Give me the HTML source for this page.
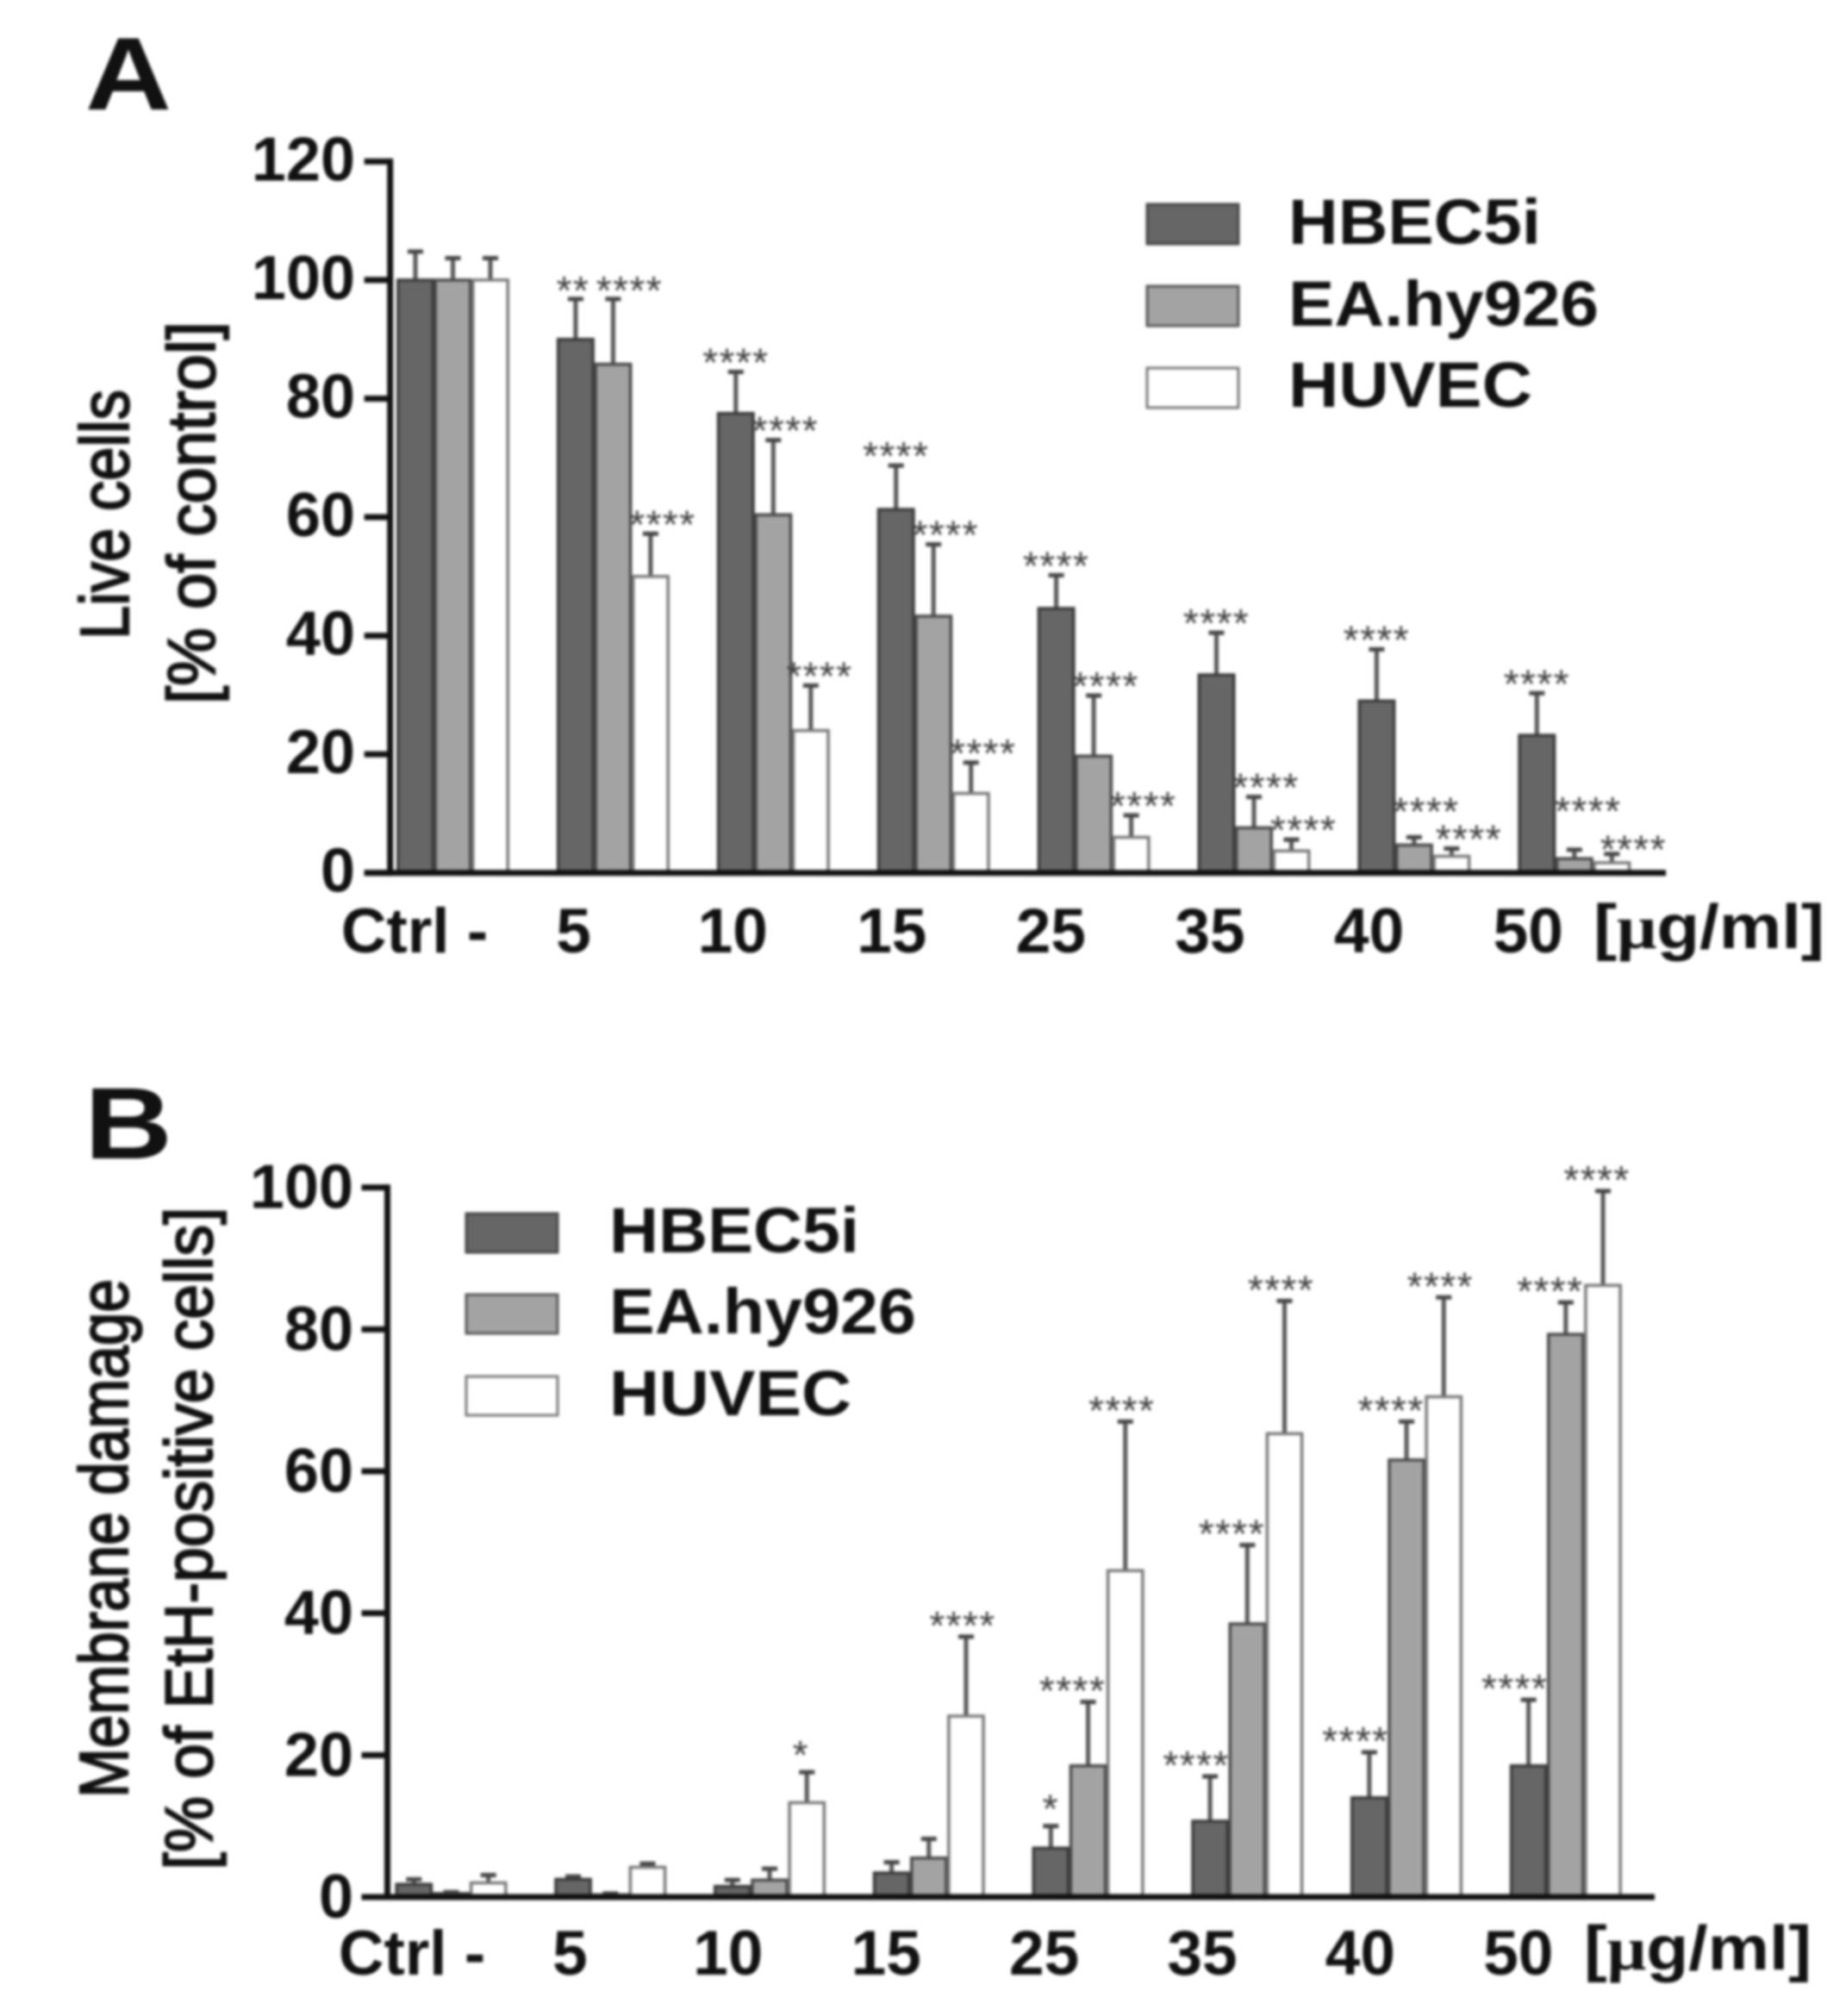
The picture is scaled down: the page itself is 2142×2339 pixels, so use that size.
<!DOCTYPE html>
<html lang="en">
<head>
<meta charset="utf-8">
<title>Live cells and membrane damage</title>
<style>
html,body{margin:0;padding:0;background:#fff;}
svg{display:block;filter:blur(1.7px);}
text{font-family:"Liberation Sans",sans-serif;fill:#111;}
.b{font-weight:bold;}
.t{stroke:#111;stroke-width:2.2px;}
</style>
</head>
<body>
<svg id="fig" width="2142" height="2339" viewBox="0 0 2142 2339" xmlns="http://www.w3.org/2000/svg">
  <rect width="2142" height="2339" fill="#fff"/>

  <text class="b" x="99" y="127" font-size="120" textLength="100" lengthAdjust="spacingAndGlyphs">A</text>
  <text class="b" x="98" y="1344" font-size="118" textLength="102" lengthAdjust="spacingAndGlyphs">B</text>

  <text class="t" transform="translate(149,597) rotate(-90)" text-anchor="middle" font-size="80" textLength="290" lengthAdjust="spacingAndGlyphs">Live cells</text>
  <text class="t" transform="translate(249,595) rotate(-90)" text-anchor="middle" font-size="78" textLength="444" lengthAdjust="spacingAndGlyphs">[% of control]</text>
  <text class="t" transform="translate(148,1785) rotate(-90)" text-anchor="middle" font-size="80" textLength="602" lengthAdjust="spacingAndGlyphs">Membrane damage</text>
  <text class="t" transform="translate(246,1785) rotate(-90)" text-anchor="middle" font-size="78" textLength="769" lengthAdjust="spacingAndGlyphs">[% of EtH-positive cells]</text>

  <g>
    <rect x="1331" y="237" width="106" height="46" fill="#666" stroke="#444" stroke-width="3"/>
    <rect x="1331" y="332" width="106" height="46" fill="#a3a3a3" stroke="#555" stroke-width="3"/>
    <rect x="1331" y="427" width="106" height="46" fill="#fff" stroke="#777" stroke-width="3"/>
    <text class="b" x="1495" y="283" font-size="74" textLength="293" lengthAdjust="spacingAndGlyphs">HBEC5i</text>
    <text class="b" x="1495" y="378" font-size="74" textLength="360" lengthAdjust="spacingAndGlyphs">EA.hy926</text>
    <text class="b" x="1495" y="472" font-size="74" textLength="283" lengthAdjust="spacingAndGlyphs">HUVEC</text>
  </g>
  <g>
    <rect x="541" y="1408" width="106" height="45" fill="#666" stroke="#444" stroke-width="3"/>
    <rect x="541" y="1502" width="106" height="45" fill="#a3a3a3" stroke="#555" stroke-width="3"/>
    <rect x="541" y="1597" width="106" height="45" fill="#fff" stroke="#777" stroke-width="3"/>
    <text class="b" x="707" y="1453" font-size="74" textLength="290" lengthAdjust="spacingAndGlyphs">HBEC5i</text>
    <text class="b" x="707" y="1547" font-size="74" textLength="356" lengthAdjust="spacingAndGlyphs">EA.hy926</text>
    <text class="b" x="707" y="1642" font-size="74" textLength="281" lengthAdjust="spacingAndGlyphs">HUVEC</text>
  </g>

  <text class="b" x="1849" y="1100" font-size="72" textLength="268" lengthAdjust="spacingAndGlyphs">[<tspan font-family="Liberation Serif">μ</tspan>g/ml]</text>
  <text class="b" x="1838" y="2285" font-size="72" textLength="264" lengthAdjust="spacingAndGlyphs">[<tspan font-family="Liberation Serif">μ</tspan>g/ml]</text>

  <g id="panelA"></g>
  <g id="panelB"></g>
</svg>

<script>
// Shared category and series labels
const categories = ['Ctrl -', '5', '10', '15', '25', '35', '40', '50'];
const seriesNames = ['hbec5i', 'ea-hy926', 'huvec'];

// Panel A: live cells [% of control]
const ticksA = [0, 20, 40, 60, 80, 100, 120];
const hbecA = [100, 90, 77.5, 61.3, 44.6, 33.4, 29, 23.2];
const eaA = [100, 85.8, 60.4, 43.3, 19.7, 7.6, 4.7, 2.4];
const huvecA = [100, 50, 24, 13.4, 6, 3.7, 2.8, 1.7];
const hbecErrA = [4.8, 6.8, 7, 7.4, 5.6, 7.1, 8.7, 7.1];
const eaErrA = [3.7, 11, 12.6, 12.1, 10.2, 5.2, 1.3, 1.5];
const huvecErrA = [3.7, 7.2, 7.6, 5.2, 3.7, 1.9, 1.3, 1.5];
const hbecStarsA = ['', '**', '****', '****', '****', '****', '****', '****'];
const eaStarsA = ['', '****', '****', '****', '****', '****', '****', '****'];
const huvecStarsA = ['', '****', '****', '****', '****', '****', '****', '****'];

// Panel B: membrane damage [% of EtH-positive cells]
const ticksB = [0, 20, 40, 60, 80, 100];
const hbecB = [1.8, 2.5, 1.5, 3.4, 6.9, 10.7, 14, 18.5];
const eaB = [0.5, 0.3, 2.4, 5.5, 18.5, 38.5, 61.6, 79.3];
const huvecB = [2, 4.2, 13.3, 25.5, 46, 65.3, 70.5, 86.2];
const hbecErrB = [0.7, 0.4, 0.9, 1.5, 3.1, 6.3, 6.4, 9.3];
const eaErrB = [0.2, 0.2, 1.6, 2.7, 9, 11.1, 5.4, 4.5];
const huvecErrB = [1.1, 0.5, 4.3, 11.2, 21, 18.7, 14, 13.3];
const hbecStarsB = ['', '', '', '', '*', '****', '****', '****'];
const eaStarsB = ['', '', '', '', '****', '****', '****', '****'];
const huvecStarsB = ['', '', '*', '****', '****', '****', '****', '****'];

const NS = 'http://www.w3.org/2000/svg';
function make(parent, tag, attrs) {
  const node = document.createElementNS(NS, tag);
  for (const k in attrs) node.setAttribute(k, attrs[k]);
  parent.appendChild(node);
  return node;
}

const styles = [
  { fill: '#666', stroke: '#3a3a3a' },
  { fill: '#a3a3a3', stroke: '#484848' },
  { fill: '#fff', stroke: '#777' }
];

function drawPanel(cfg) {
  const root = document.getElementById(cfg.id);
  const y = v => cfg.y0 - v * cfg.yUnit;
  const x = (g, s) => cfg.x0 + g * cfg.groupStep + (s - 1) * cfg.barStep;
  const catX = g => cfg.catX0 + g * cfg.catStep;

  for (let s = 0; s < 3; s++) {
    const values = cfg.values[s];
    const errs = cfg.errs[s];
    const stars = cfg.stars[s];
    for (let g = 0; g < categories.length; g++) {
      const cx = x(g, s);
      const topV = values[g] + errs[g];
      const stem = make(root, 'line', { x1: cx, x2: cx, y1: y(values[g]), y2: y(topV), stroke: '#555', 'stroke-width': 5 });
      
      
      const cap = make(root, 'line', { x1: cx - 9, x2: cx + 9, y1: y(topV), y2: y(topV), stroke: '#444', 'stroke-width': 5 });
      
      
      const bar = make(root, 'rect', {
        x: cx - cfg.barStep / 2 + 1.5, width: cfg.barStep - 3,
        y: y(values[g]), height: Math.max(0, cfg.y0 - y(values[g])),
        fill: styles[s].fill, stroke: styles[s].stroke, 'stroke-width': 3.5
      });
      
      

      if (stars[g]) {
        const n = cfg.nudge[g + ':' + s] || [0, 0];
        const sx = cx + cfg.starDx[s] + n[0];
        const base = y(topV) + cfg.starBase + n[1];
        const mark = make(root, 'text', {
          x: sx, y: base, 'text-anchor': 'middle', 'font-size': 46, 'letter-spacing': 1.4,
          style: 'fill:#3d3d3d'
        });
        mark.textContent = stars[g];
        
        
      }
    }
  }

  const axisY = make(root, 'line', { x1: cfg.axisX, x2: cfg.axisX, y1: y(cfg.ticks[cfg.ticks.length - 1]) - 3.5, y2: cfg.y0 + 3.5, stroke: '#111', 'stroke-width': 7 });
  
  
  const axisX = make(root, 'line', { x1: cfg.axisX - 30, x2: cfg.axisEnd, y1: cfg.y0, y2: cfg.y0, stroke: '#111', 'stroke-width': 7 });
  
  

  cfg.ticks.forEach(t => {
    const mark = make(root, 'line', { x1: cfg.axisX - 30, x2: cfg.axisX, y1: y(t), y2: y(t), stroke: '#111', 'stroke-width': 7 });
    
    
    const lab = make(root, 'text', { x: cfg.tickRight, y: y(t) + cfg.tickDy, 'text-anchor': 'end', 'font-size': 72, class: 'b' });
    lab.textContent = String(t);
    
    
  });

  categories.forEach((c, g) => {
    const lab = make(root, 'text', { x: catX(g), y: cfg.catY, 'text-anchor': 'middle', 'font-size': 73, class: 'b' });
    lab.textContent = c;
    
    
  });
}

drawPanel({
  id: 'panelA', ticks: ticksA,
  values: [hbecA, eaA, huvecA], errs: [hbecErrA, eaErrA, huvecErrA],
  stars: [hbecStarsA, eaStarsA, huvecStarsA],
  y0: 1012.7, yUnit: 6.878, x0: 525.5, groupStep: 185.9, barStep: 43.5,
  axisX: 452.7, axisEnd: 1933, tickRight: 412, tickDy: 22, catX0: 481, catStep: 184.6, catY: 1105,
  starDx: [0, 14, 14], starBase: 5,
  nudge: { '1:0': [-3, 1], '1:1': [5, 1], '2:2': [-4, 0], '6:1': [0, -19], '6:2': [6, 0], '7:1': [2, -34], '7:2': [11, 6] }
});
drawPanel({
  id: 'panelB', ticks: ticksB,
  values: [hbecB, eaB, huvecB], errs: [hbecErrB, eaErrB, huvecErrB],
  stars: [hbecStarsB, eaStarsB, huvecStarsB],
  y0: 2201, yUnit: 8.233, x0: 523.5, groupStep: 184.76, barStep: 43.2,
  axisX: 449.5, axisEnd: 1920, tickRight: 410, tickDy: 24, catX0: 478, catStep: 183.4, catY: 2291,
  starDx: [-16, -18, -4], starBase: 3,
  nudge: { '4:0': [16, -7], '2:2': [-3, -7], '7:2': [-3, 0] }
});
</script>
</body>
</html>
